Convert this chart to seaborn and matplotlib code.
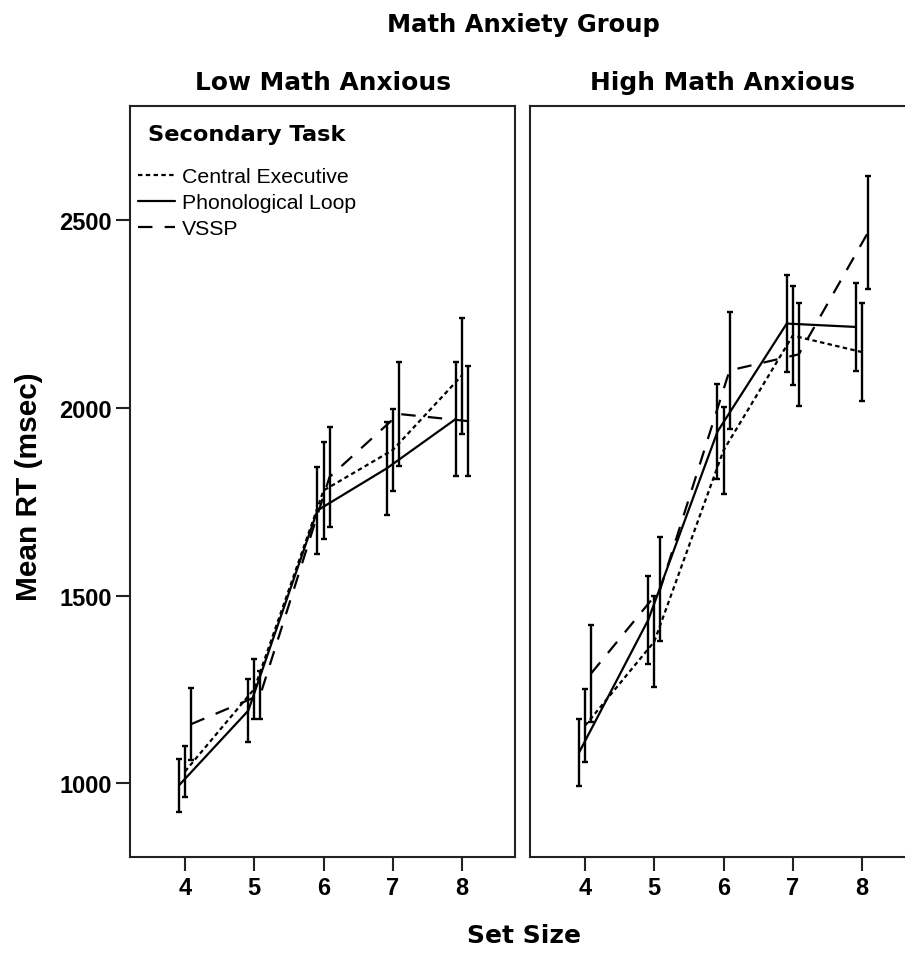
import numpy as np
import pandas as pd
import matplotlib
matplotlib.use("Agg")
import matplotlib.pyplot as plt
from matplotlib.lines import Line2D
import seaborn as sns

# ---------------- data ----------------
set_sizes = [4, 5, 6, 7, 8]
tasks = ["Central Executive", "Phonological Loop", "VSSP"]
groups = ["Low Math Anxious", "High Math Anxious"]

# Low math anxious
low_ce_mean = [1031, 1251, 1780, 1888, 2087]
low_ce_lo = [963, 1171, 1651, 1779, 1931]
low_ce_hi = [1099, 1331, 1909, 1997, 2240]
low_pl_mean = [994, 1193, 1727, 1839, 1971]
low_pl_lo = [923, 1109, 1611, 1715, 1819]
low_pl_hi = [1064, 1277, 1843, 1963, 2123]
low_vs_mean = [1157, 1235, 1816, 1984, 1965]
low_vs_lo = [1061, 1171, 1683, 1845, 1819]
low_vs_hi = [1253, 1299, 1948, 2123, 2112]

# High math anxious
high_ce_mean = [1153, 1377, 1887, 2193, 2149]
high_ce_lo = [1056, 1256, 1771, 2061, 2019]
high_ce_hi = [1251, 1499, 2003, 2325, 2280]
high_pl_mean = [1081, 1435, 1937, 2225, 2216]
high_pl_lo = [992, 1317, 1811, 2096, 2099]
high_pl_hi = [1171, 1552, 2064, 2355, 2333]
high_vs_mean = [1292, 1517, 2100, 2143, 2468]
high_vs_lo = [1163, 1379, 1944, 2005, 2317]
high_vs_hi = [1421, 1656, 2256, 2280, 2619]

y_ticks = [1000, 1500, 2000, 2500]

series = {
    ("Low Math Anxious", "Central Executive"): (low_ce_mean, low_ce_lo, low_ce_hi),
    ("Low Math Anxious", "Phonological Loop"): (low_pl_mean, low_pl_lo, low_pl_hi),
    ("Low Math Anxious", "VSSP"): (low_vs_mean, low_vs_lo, low_vs_hi),
    ("High Math Anxious", "Central Executive"): (high_ce_mean, high_ce_lo, high_ce_hi),
    ("High Math Anxious", "Phonological Loop"): (high_pl_mean, high_pl_lo, high_pl_hi),
    ("High Math Anxious", "VSSP"): (high_vs_mean, high_vs_lo, high_vs_hi),
}

rows = []
for (g, t), (m, lo, hi) in series.items():
    for s, mv, lv, hv in zip(set_sizes, m, lo, hi):
        rows.append(dict(group=g, task=t, set_size=s, mean=mv, lo=lv, hi=hv))
df = pd.DataFrame(rows)

# ---------------- style ----------------
sns.set_theme(style="white")
plt.rcParams["font.family"] = ["Liberation Sans", "DejaVu Sans"]
plt.rcParams["text.color"] = "black"
plt.rcParams["axes.labelcolor"] = "black"
plt.rcParams["xtick.color"] = "black"
plt.rcParams["ytick.color"] = "black"

dodge = {"Phonological Loop": -0.087, "Central Executive": 0.0, "VSSP": 0.087}
dash_map = {"Central Executive": (2.0, 1.5), "Phonological Loop": "", "VSSP": (6.5, 5.5)}
df["xpos"] = df["set_size"] + df["task"].map(dodge)

W, H = 905, 954
fig = plt.figure(figsize=(W / 100, H / 100), dpi=100)

def fx(px):
    return px / W

def fy(py):
    return 1 - py / H

ax_l, ax_r = 130, 530
ax_w = 385
ax_top, ax_bot = 107, 858
ax_h = ax_bot - ax_top
axes = []
for left in (ax_l, ax_r):
    a = fig.add_axes([fx(left), fy(ax_bot), ax_w / W, ax_h / H])
    axes.append(a)

LW = 1.6
for ax, g in zip(axes, groups):
    sub = df[df["group"] == g]
    sns.lineplot(data=sub, x="xpos", y="mean", style="task", style_order=tasks,
                 dashes=dash_map, color="black", linewidth=LW, estimator=None,
                 sort=True, legend=False, ax=ax)
    for t in tasks:
        st = sub[sub["task"] == t]
        ax.errorbar(st["xpos"], st["mean"],
                    yerr=[st["mean"] - st["lo"], st["hi"] - st["mean"]],
                    fmt="none", ecolor="black", elinewidth=1.7, capsize=2.2,
                    capthick=1.7)
    ax.set_xlim(3.206, 8.765)
    ax.set_ylim(803, 2805)
    ax.set_xticks(set_sizes)
    ax.set_xticklabels([str(s) for s in set_sizes], fontsize=17, fontweight="bold")
    ax.set_yticks(y_ticks)
    ax.set_xlabel("")
    ax.set_ylabel("")
    for sp in ax.spines.values():
        sp.set_linewidth(1.5)
        sp.set_color("#222222")
    ax.tick_params(axis="x", direction="out", length=10, width=1.5,
                   color="#222222", pad=3.5, bottom=True)
    ax.tick_params(axis="y", direction="out", length=10, width=1.5,
                   color="#222222", pad=3, left=True)
    ax.grid(False)

axes[0].set_yticklabels([str(v) for v in y_ticks], fontsize=17, fontweight="bold")
axes[1].tick_params(axis="y", left=False, labelleft=False)

# legend
handles = []
for t in tasks:
    ln = Line2D([], [], color="black", linewidth=LW)
    if dash_map[t]:
        ln.set_dashes(dash_map[t])
    handles.append(ln)
leg = axes[0].legend(handles, tasks, loc="upper left", frameon=False,
                     fontsize=15.3, handlelength=1.75,
                     handletextpad=0.33, labelspacing=0.33,
                     bbox_to_anchor=((138 - ax_l) / ax_w, (ax_bot - 168) / ax_h),
                     borderaxespad=0.0, borderpad=0.0)
axes[0].text((148 - ax_l) / ax_w, (ax_bot - 135) / ax_h, "Secondary Task",
             transform=axes[0].transAxes, ha="left", va="center",
             fontsize=16.2, fontweight="bold", family=["DejaVu Sans"])

# titles
fig.text(fx(523), fy(25), "Math Anxiety Group", ha="center", va="center",
         fontsize=17.5, fontweight="bold", family=["DejaVu Sans"])
fig.text(fx(323), fy(83), "Low Math Anxious", ha="center", va="center",
         fontsize=17.9, fontweight="bold", family=["DejaVu Sans"])
fig.text(fx(722), fy(83), "High Math Anxious", ha="center", va="center",
         fontsize=17.9, fontweight="bold", family=["DejaVu Sans"])
fig.text(fx(29), fy(487), "Mean RT (msec)", ha="center", va="center",
         rotation=90, fontsize=21.5, fontweight="bold")
fig.text(fx(524), fy(936), "Set Size", ha="center", va="center",
         fontsize=18, fontweight="bold", family=["DejaVu Sans"])

fig.savefig("out.png", dpi=100)
